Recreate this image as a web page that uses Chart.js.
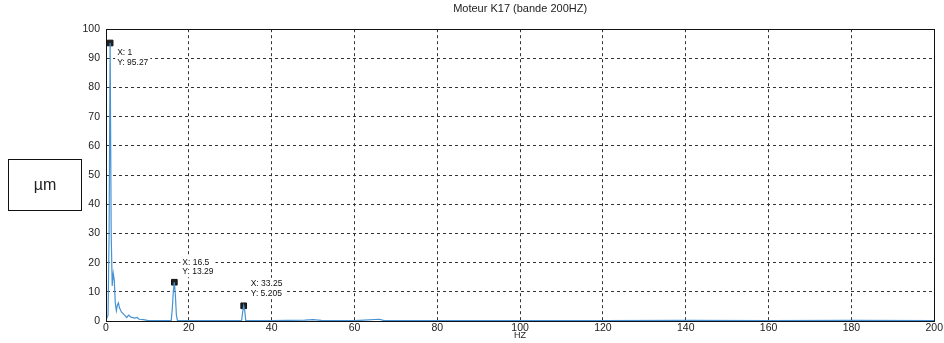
<!DOCTYPE html>
<html>
<head>
<meta charset="utf-8">
<script src="https://cdn.jsdelivr.net/npm/chart.js@4.4.1/dist/chart.umd.min.js"></script>
<style>
  html, body { margin: 0; padding: 0; background: #fff; }
  #wrap { position: relative; width: 944px; height: 343px; }
  #unitBox {
    position: absolute; left: 8px; top: 159px; width: 72px; height: 50px;
    border: 1.5px solid #111; font: 16px "Liberation Sans", Arial, sans-serif;
    color: #222; display: flex; align-items: center; justify-content: center;
  }
</style>
</head>
<body>
<div id="wrap">
  <canvas id="chart" width="944" height="343"></canvas>
  <div id="unitBox">µm</div>
</div>
<script>
// spectre (Hz / amplitude)
const freqHz = [0, 0.5, 0.75, 1, 1.25, 1.5, 1.75, 2, 2.25, 2.5, 2.75, 3, 3.25, 3.75, 4.5, 5, 5.5, 6, 7, 7.5, 8, 9, 10, 12, 15.75,
  16, 16.25, 16.5, 16.75, 17, 17.25, 20, 25, 32.75, 33, 33.25, 33.5, 33.75, 40, 48, 50, 52, 60, 66, 67, 80, 100, 120, 140, 160, 180, 200];
const ampUm = [0.3, 2, 30, 95.27, 30, 12, 16.3, 14, 6, 3.5, 5.5, 6.2, 4.5, 3, 2, 1.2, 2, 1.3, 1, 1.2, 0.6, 0.5, 0.2, 0.1, 0.2,
  4, 10, 13.29, 9, 2, 0.2, 0.1, 0.1, 0.2, 3, 5.205, 3.5, 0.2, 0.1, 0.3, 0.5, 0.2, 0.1, 0.6, 0.2, 0.1, 0.1, 0.1, 0.2, 0.1, 0.2, 0.1];

// points repérés (data tips)
const tipX = [1, 16.5, 33.25];
const tipY = [95.27, 13.29, 5.205];
const tipOffset = [[7, 10], [8, -20], [7, -22]]; // décalage du texte en px

const xTicks = [0, 20, 40, 60, 80, 100, 120, 140, 160, 180, 200];
const yTicks = [0, 10, 20, 30, 40, 50, 60, 70, 80, 90, 100];

const FONT = '"Liberation Sans", Arial, sans-serif';

// cadre + étiquettes des data tips
const tipPlugin = {
  id: 'tips',
  afterDatasetsDraw(chart) {
    const { ctx, chartArea: a, scales: { x, y } } = chart;
    ctx.save();
    ctx.strokeStyle = '#111';
    ctx.lineWidth = 1;
    ctx.setLineDash([]);
    ctx.strokeRect(Math.round(a.left) + 0.5, Math.round(a.top) + 0.5,
      Math.round(a.right - a.left), Math.round(a.bottom - a.top));
    ctx.font = '8.5px ' + FONT;
    ctx.textBaseline = 'middle';
    tipX.forEach((fx, i) => {
      const px = x.getPixelForValue(fx);
      const py = y.getPixelForValue(tipY[i]);
      const [dx, dy] = tipOffset[i];
      const l1 = 'X: ' + fx, l2 = 'Y: ' + tipY[i];
      const w = Math.max(ctx.measureText(l1).width, ctx.measureText(l2).width);
      ctx.fillStyle = '#fff';
      ctx.fillRect(px + dx - 2, py + dy - 6, w + 4, 21);
      ctx.fillStyle = '#111';
      ctx.fillText(l1, px + dx, py + dy);
      ctx.fillText(l2, px + dx, py + dy + 9.5);
    });
    ctx.restore();
  }
};

new Chart(document.getElementById('chart'), {
  type: 'line',
  data: {
    datasets: [
      {
        data: freqHz.map((f, i) => ({ x: f, y: ampUm[i] })),
        borderColor: '#4592d4',
        borderWidth: 1.2,
        pointRadius: 0,
        tension: 0
      },
      {
        type: 'scatter',
        data: tipX.map((f, i) => ({ x: f, y: tipY[i] })),
        pointStyle: 'rect',
        pointRadius: 4,
        backgroundColor: '#222',
        borderColor: '#111',
        borderWidth: 1
      }
    ]
  },
  options: {
    responsive: false,
    animation: false,
    layout: { padding: { left: 0, right: 7, top: 0, bottom: 0 } },
    plugins: {
      legend: { display: false },
      tooltip: { enabled: false },
      title: {
        display: true,
        fullSize: false,
        text: 'Moteur K17 (bande 200HZ)',
        color: '#222',
        font: { family: FONT, size: 11, weight: 'normal' },
        padding: { top: 2, bottom: 14 }
      }
    },
    scales: {
      x: {
        type: 'linear',
        min: 0, max: 200,
        afterBuildTicks: s => { s.ticks = xTicks.map(v => ({ value: v })); },
        afterFit: s => { s.height = 22; },
        grid: { color: '#333', drawTicks: false, lineWidth: 1 },
        border: { display: true, color: '#111', dash: [3, 3] },
        ticks: { color: '#222', font: { family: FONT, size: 10.5 }, padding: 1, maxRotation: 0 },
        title: { display: true, text: 'HZ', color: '#222', font: { family: FONT, size: 9 }, padding: { top: 0, bottom: 2 } }
      },
      y: {
        type: 'linear',
        min: 0, max: 100,
        afterBuildTicks: s => { s.ticks = yTicks.map(v => ({ value: v })); },
        afterFit: s => { s.width = 106; },
        grid: { color: '#333', drawTicks: false, lineWidth: 1 },
        border: { display: true, color: '#111', dash: [3, 3] },
        ticks: { color: '#222', font: { family: FONT, size: 10.5 }, padding: 6 }
      }
    }
  },
  plugins: [tipPlugin]
});
</script>
</body>
</html>
